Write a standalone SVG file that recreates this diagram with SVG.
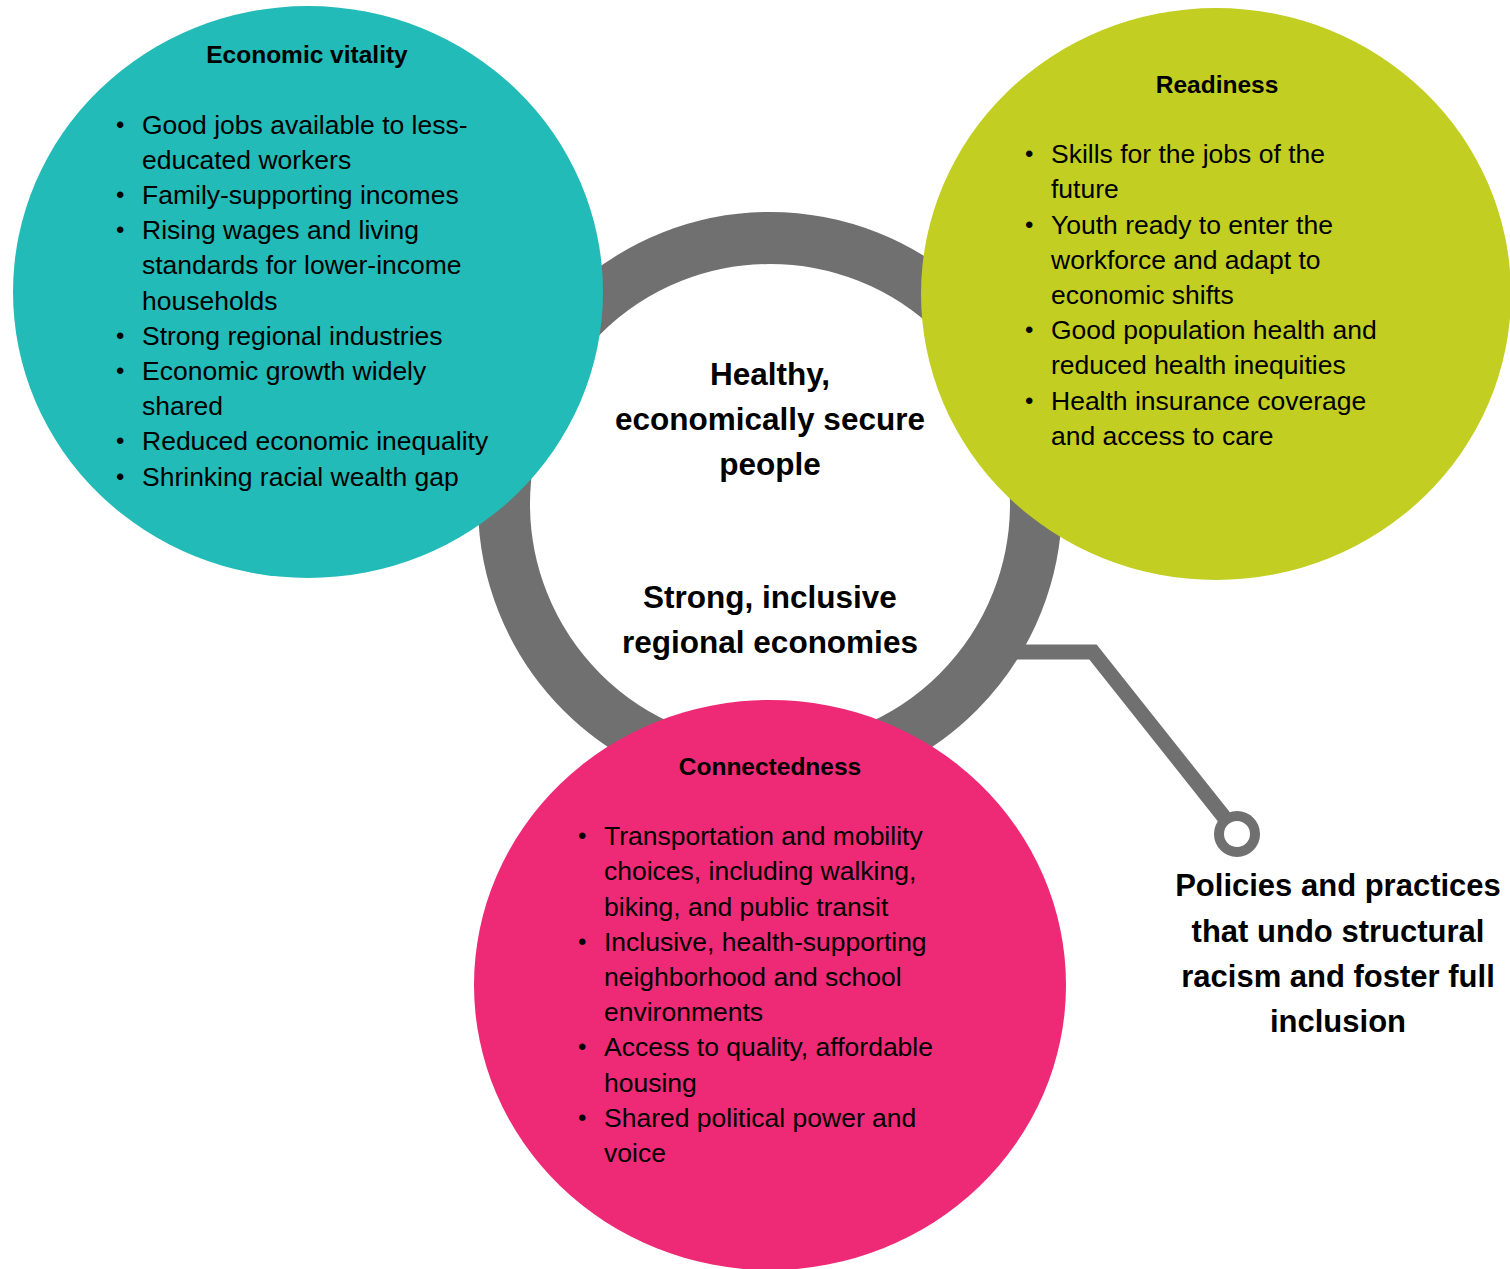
<svg xmlns="http://www.w3.org/2000/svg" width="1510" height="1269" viewBox="0 0 1510 1269">
<style>
text{font-family:"Liberation Sans",Arial,sans-serif;fill:#000}
.b{font-size:26.5px}
.t{font-size:24.5px;font-weight:bold;text-anchor:middle}
.c{font-size:31.5px;font-weight:bold;text-anchor:middle}
.p{font-size:31px;font-weight:bold;text-anchor:middle}
.dot{font-size:24px}
</style>
<rect width="1510" height="1269" fill="#fff"/>
<g id="ring">
<circle cx="770" cy="504" r="266" fill="none" stroke="#707070" stroke-width="52"/>
</g>
<g id="connectors">
<path d="M1010 652 H1093 L1228 822" fill="none" stroke="#707070" stroke-width="15" stroke-linejoin="miter"/>
<circle cx="1237" cy="834" r="18" fill="#fff" stroke="#707070" stroke-width="10"/>
</g>
<g id="economic-vitality">
<ellipse cx="308" cy="292" rx="295" ry="286" fill="#22BBB8"/>
<text class="t" x="307" y="63">Economic vitality</text>
<text class="b"><tspan class="dot" x="116" y="133">•</tspan><tspan x="142" y="134">Good jobs available to less-</tspan></text>
<text class="b" x="142" y="169">educated workers</text>
<text class="b"><tspan class="dot" x="116" y="203">•</tspan><tspan x="142" y="204">Family-supporting incomes</tspan></text>
<text class="b"><tspan class="dot" x="116" y="238">•</tspan><tspan x="142" y="239">Rising wages and living</tspan></text>
<text class="b" x="142" y="274">standards for lower-income</text>
<text class="b" x="142" y="310">households</text>
<text class="b"><tspan class="dot" x="116" y="344">•</tspan><tspan x="142" y="345">Strong regional industries</tspan></text>
<text class="b"><tspan class="dot" x="116" y="379">•</tspan><tspan x="142" y="380">Economic growth widely</tspan></text>
<text class="b" x="142" y="415">shared</text>
<text class="b"><tspan class="dot" x="116" y="449">•</tspan><tspan x="142" y="450">Reduced economic inequality</tspan></text>
<text class="b"><tspan class="dot" x="116" y="485">•</tspan><tspan x="142" y="486">Shrinking racial wealth gap</tspan></text>
</g>
<g id="readiness">
<ellipse cx="1216" cy="294" rx="295" ry="286" fill="#C2CE22"/>
<text class="t" x="1217" y="93">Readiness</text>
<text class="b"><tspan class="dot" x="1025" y="162">•</tspan><tspan x="1051" y="163">Skills for the jobs of the</tspan></text>
<text class="b" x="1051" y="198">future</text>
<text class="b"><tspan class="dot" x="1025" y="233">•</tspan><tspan x="1051" y="234">Youth ready to enter the</tspan></text>
<text class="b" x="1051" y="269">workforce and adapt to</text>
<text class="b" x="1051" y="304">economic shifts</text>
<text class="b"><tspan class="dot" x="1025" y="338">•</tspan><tspan x="1051" y="339">Good population health and</tspan></text>
<text class="b" x="1051" y="374">reduced health inequities</text>
<text class="b"><tspan class="dot" x="1025" y="409">•</tspan><tspan x="1051" y="410">Health insurance coverage</tspan></text>
<text class="b" x="1051" y="445">and access to care</text>
</g>
<g id="connectedness">
<ellipse cx="770" cy="985" rx="296" ry="285" fill="#EE2A77"/>
<text class="t" x="770" y="775">Connectedness</text>
<text class="b"><tspan class="dot" x="578" y="844">•</tspan><tspan x="604" y="845">Transportation and mobility</tspan></text>
<text class="b" x="604" y="880">choices, including walking,</text>
<text class="b" x="604" y="916">biking, and public transit</text>
<text class="b"><tspan class="dot" x="578" y="950">•</tspan><tspan x="604" y="951">Inclusive, health-supporting</tspan></text>
<text class="b" x="604" y="986">neighborhood and school</text>
<text class="b" x="604" y="1021">environments</text>
<text class="b"><tspan class="dot" x="578" y="1055">•</tspan><tspan x="604" y="1056">Access to quality, affordable</tspan></text>
<text class="b" x="604" y="1092">housing</text>
<text class="b"><tspan class="dot" x="578" y="1126">•</tspan><tspan x="604" y="1127">Shared political power and</tspan></text>
<text class="b" x="604" y="1162">voice</text>
</g>
<g id="center">
<text class="c" x="770" y="385">Healthy,</text>
<text class="c" x="770" y="430">economically secure</text>
<text class="c" x="770" y="475">people</text>
<text class="c" x="770" y="608">Strong, inclusive</text>
<text class="c" x="770" y="653">regional economies</text>
</g>
<g id="policies">
<text class="p" x="1338" y="896">Policies and practices</text>
<text class="p" x="1338" y="942">that undo structural</text>
<text class="p" x="1338" y="987">racism and foster full</text>
<text class="p" x="1338" y="1032">inclusion</text>
</g>
</svg>
